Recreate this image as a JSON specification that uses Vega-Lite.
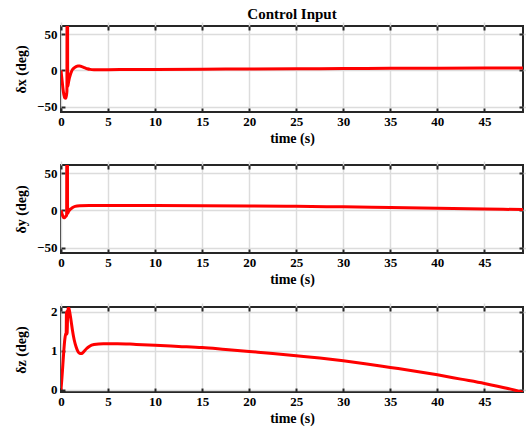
{
  "$schema": "https://vega.github.io/schema/vega-lite/v6.json",
  "background": "white",
  "padding": {"left": 13, "top": 6, "right": 2, "bottom": 4},
  "spacing": 17,
  "datasets": {
    "dx": [
      {"t": 0, "v": 0}, {"t": 0.1, "v": -12}, {"t": 0.2, "v": -24}, {"t": 0.3, "v": -33}, {"t": 0.4, "v": -37.5}, {"t": 0.5, "v": -38}, {"t": 0.58, "v": -34}, {"t": 0.63, "v": -28}, {"t": 0.65, "v": 200}, {"t": 0.69, "v": 200}, {"t": 0.71, "v": -22}, {"t": 0.8, "v": -16}, {"t": 0.9, "v": -10}, {"t": 1.0, "v": -5.5}, {"t": 1.1, "v": -2}, {"t": 1.2, "v": 0.8}, {"t": 1.4, "v": 3.5}, {"t": 1.6, "v": 5.2}, {"t": 1.8, "v": 6}, {"t": 2.0, "v": 6}, {"t": 2.2, "v": 5.2}, {"t": 2.5, "v": 3.8}, {"t": 2.8, "v": 2.4}, {"t": 3.1, "v": 1.5}, {"t": 3.5, "v": 1.1}, {"t": 4, "v": 1}, {"t": 5, "v": 1.1}, {"t": 10, "v": 1.4}, {"t": 15, "v": 1.7}, {"t": 20, "v": 2}, {"t": 25, "v": 2.3}, {"t": 30, "v": 2.6}, {"t": 35, "v": 2.9}, {"t": 40, "v": 3.1}, {"t": 45, "v": 3.3}, {"t": 49.1, "v": 3.5}
    ],
    "dy": [
      {"t": 0, "v": 0}, {"t": 0.1, "v": -4}, {"t": 0.2, "v": -8}, {"t": 0.3, "v": -9.8}, {"t": 0.4, "v": -9.5}, {"t": 0.5, "v": -8}, {"t": 0.6, "v": -6}, {"t": 0.63, "v": 200}, {"t": 0.67, "v": 200}, {"t": 0.7, "v": -4}, {"t": 0.8, "v": -1.5}, {"t": 1.0, "v": 1.8}, {"t": 1.2, "v": 3.8}, {"t": 1.5, "v": 5.5}, {"t": 2, "v": 6.5}, {"t": 3, "v": 6.8}, {"t": 5, "v": 6.7}, {"t": 10, "v": 6.6}, {"t": 15, "v": 6.4}, {"t": 20, "v": 6.1}, {"t": 25, "v": 5.6}, {"t": 30, "v": 4.9}, {"t": 35, "v": 4}, {"t": 40, "v": 3}, {"t": 45, "v": 2}, {"t": 49.1, "v": 1.2}
    ],
    "dz": [
      {"t": 0, "v": 0}, {"t": 0.1, "v": 0.3}, {"t": 0.2, "v": 0.65}, {"t": 0.3, "v": 1.0}, {"t": 0.4, "v": 1.28}, {"t": 0.5, "v": 1.43}, {"t": 0.55, "v": 1.45}, {"t": 0.58, "v": 2.0}, {"t": 0.61, "v": 1.42}, {"t": 0.65, "v": 1.45}, {"t": 0.7, "v": 1.85}, {"t": 0.76, "v": 2.08}, {"t": 0.82, "v": 2.1}, {"t": 0.9, "v": 2.02}, {"t": 1.0, "v": 1.88}, {"t": 1.1, "v": 1.72}, {"t": 1.2, "v": 1.55}, {"t": 1.4, "v": 1.28}, {"t": 1.6, "v": 1.1}, {"t": 1.8, "v": 0.98}, {"t": 2.0, "v": 0.93}, {"t": 2.2, "v": 0.93}, {"t": 2.4, "v": 0.97}, {"t": 2.7, "v": 1.05}, {"t": 3.0, "v": 1.11}, {"t": 3.5, "v": 1.16}, {"t": 4.5, "v": 1.18}, {"t": 6, "v": 1.18}, {"t": 8, "v": 1.16}, {"t": 10, "v": 1.14}, {"t": 12.5, "v": 1.11}, {"t": 15, "v": 1.08}, {"t": 17.5, "v": 1.03}, {"t": 20, "v": 0.98}, {"t": 22.5, "v": 0.93}, {"t": 25, "v": 0.87}, {"t": 27.5, "v": 0.81}, {"t": 30, "v": 0.74}, {"t": 32.5, "v": 0.66}, {"t": 35, "v": 0.57}, {"t": 37.5, "v": 0.48}, {"t": 40, "v": 0.38}, {"t": 42.5, "v": 0.27}, {"t": 45, "v": 0.16}, {"t": 47.5, "v": 0.03}, {"t": 49.1, "v": -0.07}
    ]
  },
  "vconcat": [
    {
      "width": 462, "height": 86,
      "title": {"text": "Control Input", "offset": 3},
      "data": {"name": "dx"},
      "layer": [
        {
          "mark": {"type": "line", "strokeOpacity": 0, "clip": true},
          "encoding": {
            "x": {"field": "t", "type": "quantitative", "scale": {"domain": [0, 49.1], "nice": false, "zero": false},
                  "axis": {"orient": "top", "labels": false, "title": null, "grid": false, "values": [0, 5, 10, 15, 20, 25, 30, 35, 40, 45]}},
            "y": {"field": "v", "type": "quantitative", "scale": {"domain": [-57, 61], "nice": false, "zero": false},
                  "axis": {"orient": "right", "labels": false, "title": null, "grid": false, "values": [-50, 0, 50], "minExtent": 0, "maxExtent": 0}}
          }
        },
        {
          "mark": {"type": "line", "color": "#ff0000", "strokeWidth": 3, "clip": true, "interpolate": "monotone"},
          "encoding": {
            "x": {"field": "t", "type": "quantitative", "scale": {"domain": [0, 49.1], "nice": false, "zero": false},
                  "axis": {"orient": "bottom", "title": "time (s)", "grid": true, "values": [0, 5, 10, 15, 20, 25, 30, 35, 40, 45]}},
            "y": {"field": "v", "type": "quantitative", "scale": {"domain": [-57, 61], "nice": false, "zero": false},
                  "axis": {"orient": "left", "title": "δx (deg)", "grid": true, "values": [-50, 0, 50]}}
          }
        }
      ]
    },
    {
      "width": 462, "height": 88,
      "data": {"name": "dy"},
      "layer": [
        {
          "mark": {"type": "line", "strokeOpacity": 0, "clip": true},
          "encoding": {
            "x": {"field": "t", "type": "quantitative", "scale": {"domain": [0, 49.1], "nice": false, "zero": false},
                  "axis": {"orient": "top", "labels": false, "title": null, "grid": false, "values": [0, 5, 10, 15, 20, 25, 30, 35, 40, 45]}},
            "y": {"field": "v", "type": "quantitative", "scale": {"domain": [-57, 61], "nice": false, "zero": false},
                  "axis": {"orient": "right", "labels": false, "title": null, "grid": false, "values": [-50, 0, 50], "minExtent": 0, "maxExtent": 0}}
          }
        },
        {
          "mark": {"type": "line", "color": "#ff0000", "strokeWidth": 3, "clip": true, "interpolate": "monotone"},
          "encoding": {
            "x": {"field": "t", "type": "quantitative", "scale": {"domain": [0, 49.1], "nice": false, "zero": false},
                  "axis": {"orient": "bottom", "title": "time (s)", "grid": true, "values": [0, 5, 10, 15, 20, 25, 30, 35, 40, 45]}},
            "y": {"field": "v", "type": "quantitative", "scale": {"domain": [-57, 61], "nice": false, "zero": false},
                  "axis": {"orient": "left", "title": "δy (deg)", "grid": true, "values": [-50, 0, 50]}}
          }
        }
      ]
    },
    {
      "width": 462, "height": 85,
      "data": {"name": "dz"},
      "layer": [
        {
          "mark": {"type": "line", "strokeOpacity": 0, "clip": true},
          "encoding": {
            "x": {"field": "t", "type": "quantitative", "scale": {"domain": [0, 49.1], "nice": false, "zero": false},
                  "axis": {"orient": "top", "labels": false, "title": null, "grid": false, "values": [0, 5, 10, 15, 20, 25, 30, 35, 40, 45]}},
            "y": {"field": "v", "type": "quantitative", "scale": {"domain": [-0.06, 2.12], "nice": false, "zero": false},
                  "axis": {"orient": "right", "labels": false, "title": null, "grid": false, "values": [0, 1, 2], "minExtent": 0, "maxExtent": 0}}
          }
        },
        {
          "mark": {"type": "line", "color": "#ff0000", "strokeWidth": 3, "clip": true, "interpolate": "monotone"},
          "encoding": {
            "x": {"field": "t", "type": "quantitative", "scale": {"domain": [0, 49.1], "nice": false, "zero": false},
                  "axis": {"orient": "bottom", "title": "time (s)", "grid": true, "values": [0, 5, 10, 15, 20, 25, 30, 35, 40, 45]}},
            "y": {"field": "v", "type": "quantitative", "scale": {"domain": [-0.06, 2.12], "nice": false, "zero": false},
                  "axis": {"orient": "left", "title": "δz (deg)", "grid": true, "values": [0, 1, 2]}}
          }
        }
      ]
    }
  ],
  "config": {
    "view": {"stroke": "#262626", "strokeWidth": 2},
    "title": {"font": "Liberation Serif", "fontSize": 15, "fontWeight": "bold", "color": "#000000", "anchor": "middle"},
    "axis": {
      "labelFont": "Liberation Serif", "labelFontSize": 13, "labelFontWeight": "bold", "labelColor": "#000000",
      "titleFont": "Liberation Serif", "titleFontSize": 14, "titleFontWeight": "bold", "titleColor": "#000000",
      "domain": false, "tickColor": "#262626", "tickWidth": 2, "tickSize": 4, "offset": -4,
      "gridColor": "#dcdcdc", "gridWidth": 1.5, "labelFlush": false, "labelOverlap": false
    },
    "axisX": {"labelPadding": 3, "titlePadding": 3},
    "axisY": {"labelPadding": 4, "titlePadding": 13, "minExtent": 24, "maxExtent": 24}
  }
}
